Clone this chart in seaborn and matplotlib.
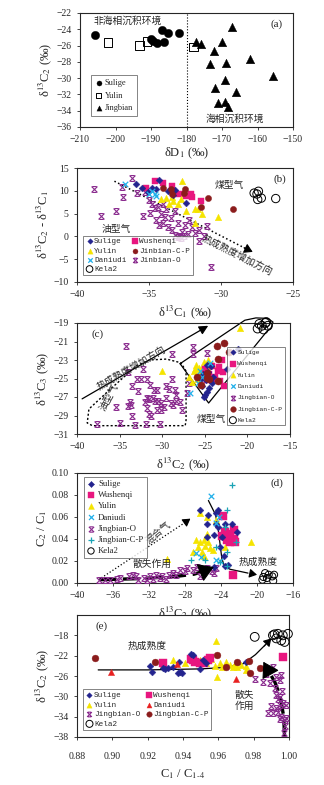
import matplotlib
matplotlib.use("Agg")
import matplotlib.pyplot as plt
from matplotlib.path import Path
import seaborn as sns

# ---------------- data ----------------
# (a) dD1 vs d13C2
a_sulige_x = [-205.8, -190.0, -188.4, -187.0, -186.2, -185.1, -182.0, -189.4]
a_sulige_y = [-24.7, -25.2, -25.7, -24.1, -25.6, -24.5, -24.5, -25.4]
a_yulin_x = [-202.1, -193.2, -191.1, -178.0]
a_yulin_y = [-25.6, -26.0, -25.5, -26.2]
a_jing_x = [-167.1, -177.2, -176.0, -170.1, -172.2, -173.4, -169.0, -162.0, -155.5,
            -169.2, -172.1, -166.0, -171.1, -169.2, -168.2]
a_jing_y = [-23.7, -25.5, -25.8, -25.5, -26.7, -28.3, -28.1, -27.7, -29.7,
            -30.2, -31.2, -31.7, -33.0, -32.9, -33.6]

# (b) d13C1 vs d13C2-d13C1
b_sulige_x = [-34.3, -35.9, -35.5, -35.1, -34.5, -33.7, -33.3, -32.4, -33.2, -34.8]
b_sulige_y = [12.4, 11.5, 10.6, 9.7, 10.4, 9.9, 9.0, 7.3, 10.2, 10.6]
b_wush_x = [-34.6, -34.0, -32.6, -32.1, -32.0, -31.4, -35.2, -33.4, -33.0, -32.4]
b_wush_y = [12.1, 11.7, 9.2, 9.2, 8.6, 7.7, 10.6, 11.0, 9.3, 8.8]
b_yulin_x = [-32.7, -34.2, -33.8, -33.3, -33.0, -32.8, -32.4, -31.8, -31.6, -31.3,
             -30.2, -31.8, -33.6, -33.4]
b_yulin_y = [12.1, 8.1, 8.4, 7.7, 7.0, 8.1, 5.5, 5.9, 5.9, 5.0, 4.2, 2.9, 7.0, 8.6]
b_dan_x = [-36.7, -34.8, -34.6, -35.0, -34.5]
b_dan_y = [11.5, 10.0, 9.2, 9.3, 8.8]
b_cp_x = [-34.0, -33.5, -33.4, -32.5, -30.9, -31.4, -29.2, -32.6]
b_cp_y = [10.6, 10.5, 9.3, 10.5, 8.4, 6.4, 5.9, 9.5]
b_o_x = [-38.8, -38.3, -37.3, -36.8, -36.9, -36.2, -35.4, -35.8, -35.3, -35.0, -34.8,
         -34.6, -34.9, -34.4, -34.2, -34.0, -33.8, -34.5, -34.3, -34.0, -33.7, -33.5,
         -33.2, -33.0, -33.4, -33.2, -32.9, -32.7, -32.5, -32.8, -32.3, -32.0, -31.8,
         -31.5, -31.2, -31.5, -31.0, -32.2, -33.9, -30.7, -32.6, -33.0]
b_o_y = [10.5, 4.4, 5.5, 8.6, 10.8, 12.8, 4.4, 9.5, 9.8, 8.0, 7.0,
         6.2, 5.2, 6.5, 5.0, 7.2, 6.0, 3.5, 2.5, 3.0, 2.0, 4.0,
         5.5, 3.0, 1.5, 0.2, 0.0, 1.0, 2.5, -0.3, 0.5, 2.0, 0.8,
         1.5, 0.0, -1.0, 2.2, 3.5, 4.2, -6.8, 0.0, -0.2]
b_kela_x = [-27.5, -27.4, -27.7, -27.2, -27.45, -26.2]
b_kela_y = [9.3, 9.9, 9.5, 8.4, 8.1, 8.3]

# (c) d13C2 vs d13C3
c_sulige_x = [-25.5, -25.1, -24.8, -24.5, -24.2, -24.0, -25.3, -24.6, -25.0, -24.3,
              -22.4, -21.1, -24.9, -25.2, -24.7]
c_sulige_y = [-25.0, -27.0, -26.5, -26.0, -25.5, -24.8, -25.8, -24.3, -26.8, -23.7,
              -24.0, -21.8, -25.2, -24.5, -23.5]
c_wush_x = [-25.0, -24.5, -24.0, -23.5, -23.0, -22.7, -23.2, -24.2, -23.8, -23.3, -24.8, -22.9]
c_wush_y = [-24.0, -24.5, -25.0, -24.2, -23.0, -25.8, -25.3, -23.6, -24.8, -23.8, -25.2, -24.3]
c_yulin_x = [-26.8, -26.3, -26.0, -25.7, -25.4, -25.1, -24.8, -25.9, -26.5, -25.3,
             -24.6, -25.6, -30.0, -20.9, -26.1, -24.2]
c_yulin_y = [-24.8, -24.2, -23.5, -23.9, -24.0, -23.2, -23.8, -25.0, -25.4, -24.7,
             -23.0, -24.4, -24.2, -19.5, -24.0, -23.4]
c_dan_x = [-26.7, -25.6, -24.4, -25.3, -25.8]
c_dan_y = [-26.6, -24.2, -23.3, -24.8, -25.5]
c_o_x = [-34.3, -34.0, -33.5, -35.4, -33.8, -33.7, -33.5, -33.2, -37.7, -35.0, -32.3,
         -31.8, -33.0, -32.5, -31.9, -31.4, -31.0, -30.6, -31.8, -31.5, -31.1, -30.8,
         -30.5, -30.1, -29.6, -31.8, -31.6, -30.6, -30.1, -29.5, -29.2, -28.8, -28.8,
         -28.5, -28.4, -28.4, -28.7, -27.9, -27.7, -27.1, -26.4, -26.4, -24.7, -26.9,
         -29.0, -32.0, -31.3, -32.8, -30.3, -34.0, -29.8, -24.5]
c_o_y = [-21.5, -24.3, -25.8, -28.1, -27.5, -27.9, -29.1, -30.0, -29.9, -29.8, -24.0,
         -25.1, -25.1, -25.0, -29.9, -25.7, -26.2, -26.2, -27.1, -27.2, -27.1, -27.4,
         -27.4, -27.6, -27.1, -28.2, -28.8, -28.4, -28.4, -25.8, -26.1, -22.4, -25.1,
         -26.2, -26.8, -27.4, -27.9, -27.5, -28.4, -26.6, -21.6, -22.4, -22.2, -25.5,
         -27.6, -27.5, -29.0, -26.4, -29.9, -28.0, -28.1, -23.6]
c_cp_x = [-23.6, -22.7, -22.2, -23.4, -25.9, -25.5, -24.8, -24.7, -23.4, -24.5]
c_cp_y = [-21.5, -21.2, -22.1, -22.9, -24.8, -25.7, -24.4, -24.9, -25.3, -25.0]
c_kela_x = [-18.8, -18.3, -17.9, -17.6, -18.6, -18.1, -17.8]
c_kela_y = [-19.6, -19.3, -19.0, -19.3, -19.1, -19.7, -18.9]

# (d) d13C2 vs C2/C1
d_sulige_x = [-26.3, -25.4, -24.5, -24.3, -25.6, -24.6, -24.3, -23.6, -22.8, -22.2,
              -23.9, -24.8, -25.5, -24.1, -23.7, -23.6, -23.2, -24.8]
d_sulige_y = [0.066, 0.062, 0.064, 0.066, 0.054, 0.054, 0.051, 0.054, 0.054, 0.046,
              0.042, 0.044, 0.042, 0.033, 0.025, 0.0155, 0.016, 0.015]
d_wush_x = [-23.8, -23.0, -23.5, -22.6, -23.3, -23.0, -22.4, -22.7, -23.9, -22.6]
d_wush_y = [0.061, 0.045, 0.046, 0.040, 0.039, 0.037, 0.037, 0.0075, 0.043, 0.048]
d_yulin_x = [-26.3, -25.6, -24.5, -26.8, -26.3, -25.9, -25.8, -25.4, -26.5, -26.1,
             -25.9, -27.1, -24.9, -23.6, -20.7, -30.0, -25.5, -25.2]
d_yulin_y = [0.064, 0.060, 0.057, 0.039, 0.037, 0.039, 0.034, 0.037, 0.033, 0.028,
             0.025, 0.028, 0.030, 0.033, 0.037, 0.022, 0.045, 0.032]
d_dan_x = [-25.1, -26.8, -26.2, -24.5, -24.1, -24.2, -24.6]
d_dan_y = [0.079, 0.027, 0.024, 0.021, 0.020, 0.060, 0.055]
d_o_x = [-37.5, -35.2, -33.8, -33.4, -32.6, -31.9, -31.2, -30.5, -29.8, -29.3, -28.5,
         -28.0, -27.1, -26.3, -25.6, -24.6, -24.8, -34.2, -33.2, -32.2, -31.5, -30.8,
         -30.1, -29.0, -27.8, -26.7, -25.8, -25.0, -35.5, -36.3, -36.9]
d_o_y = [0.003, 0.0045, 0.0075, 0.006, 0.0045, 0.006, 0.0075, 0.006, 0.0075, 0.0095, 0.012,
         0.0105, 0.012, 0.006, 0.0135, 0.0135, 0.009, 0.006, 0.003, 0.003, 0.004, 0.0045,
         0.004, 0.0075, 0.0135, 0.015, 0.012, 0.011, 0.0035, 0.003, 0.003]
d_cp_x = [-22.8, -23.3, -23.5, -22.3, -23.3, -25.8, -27.3, -24.6, -23.3, -24.1]
d_cp_y = [0.0895, 0.066, 0.051, 0.037, 0.028, 0.021, 0.021, 0.033, 0.0155, 0.019]
d_kela_x = [-19.1, -18.7, -18.3, -19.3, -18.9, -18.2, -18.1, -19.4]
d_kela_y = [0.009, 0.0075, 0.006, 0.0055, 0.0045, 0.002, 0.0075, 0.003]

# (e) C1/C1-4 vs d13C2
e_sulige_x = [0.9214, 0.9223, 0.9289, 0.9298, 0.9317, 0.9345, 0.9383, 0.9392, 0.9380,
              0.9495, 0.9443, 0.9458, 0.9514, 0.9533, 0.9759, 0.9373]
e_sulige_y = [-24.1, -25.2, -24.4, -24.6, -24.4, -24.2, -25.2, -25.5, -23.2,
              -24.7, -21.7, -21.9, -22.9, -23.4, -23.2, -25.4]
e_wush_x = [0.9289, 0.9448, 0.9467, 0.9495, 0.9518, 0.9542, 0.9552, 0.9965, 0.9458]
e_wush_y = [-23.4, -22.6, -23.2, -23.4, -23.5, -22.8, -22.4, -22.2, -22.9]
e_yulin_x = [0.9289, 0.9345, 0.9410, 0.9495, 0.9523, 0.9561, 0.9586, 0.9593, 0.9608,
             0.9646, 0.9665, 0.9693, 0.9706, 0.9759, 0.9759, 0.9533, 0.9580, 0.9618,
             0.9684, 0.9730]
e_yulin_y = [-23.9, -22.9, -23.5, -22.8, -23.0, -22.6, -19.1, -26.1, -23.5,
             -23.2, -23.9, -23.7, -24.2, -24.1, -24.9, -23.5, -24.0, -24.2,
             -24.2, -23.8]
e_dan_x = [0.8994, 0.9368, 0.9702]
e_dan_y = [-25.2, -23.7, -26.5]
e_o_x = [0.9806, 0.9853, 0.9871, 0.9890, 0.9909, 0.9928, 0.9947, 0.9956, 0.9918,
         0.9928, 0.9937, 0.9947, 0.9951, 0.9966, 0.9984, 0.9881, 0.9909, 0.9937,
         0.9956, 0.9975, 0.9971, 0.9975, 0.9947, 0.9928, 0.9900, 0.9984, 0.9962]
e_o_y = [-26.5, -27.2, -25.6, -27.4, -24.2, -26.1, -26.7, -25.8, -28.4,
         -29.7, -30.6, -30.1, -31.7, -31.4, -31.7, -33.3, -33.3, -33.0,
         -34.0, -34.6, -37.2, -35.9, -34.4, -32.3, -31.9, -34.3, -29.0]
e_cp_x = [0.8900, 0.9242, 0.9593, 0.9646, 0.9708, 0.9774, 0.9781, 0.9834, 0.9871]
e_cp_y = [-22.4, -23.2, -21.9, -24.2, -23.2, -23.0, -25.4, -24.5, -24.7]
e_kela_x = [0.9806, 0.9909, 0.9937, 0.9965, 0.9994, 0.9956, 0.9975, 0.9928, 0.9918]
e_kela_y = [-18.3, -18.0, -17.7, -18.0, -17.7, -19.0, -19.3, -18.6, -17.8]

# ---------------- style ----------------
sns.set_style("ticks")
plt.rcParams["font.family"] = ["Liberation Serif", "Noto Sans CJK SC"]
plt.rcParams["mathtext.fontset"] = "stix"
plt.rcParams["axes.linewidth"] = 0.8
plt.rcParams["xtick.labelsize"] = 7
plt.rcParams["ytick.labelsize"] = 7
plt.rcParams["xtick.major.size"] = 2.5
plt.rcParams["ytick.major.size"] = 2.5
plt.rcParams["xtick.major.width"] = 0.6
plt.rcParams["ytick.major.width"] = 0.6

CN = ["Noto Sans CJK SC"]
MONO = ["Liberation Mono"]

jx = Path([(-1, -1), (1, 1), (-1, 1), (1, -1), (-0.7, 1), (0.7, 1), (-0.7, -1), (0.7, -1)],
          [Path.MOVETO, Path.LINETO] * 4)

C_SUL = "#23238e"
C_WUS = "#e8167f"
C_YUL = "#f5e400"
C_DAN = "#22b0ea"
C_O = "#8a2b8e"
C_CP = "#8b1c1c"
C_CPD = "#1aa3b5"
C_RED = "#e82020"


def pts(ax, x, y, label, marker, color, s, open_=False, lw=0.6, clip=True):
    kw = dict(x=x, y=y, ax=ax, label=label, marker=marker, s=s, clip_on=clip, zorder=3)
    if open_:
        kw.update(color=color, facecolor="none", edgecolor=color, linewidth=0.7)
    elif marker in ("x", "+") or isinstance(marker, Path):
        kw.update(color=color, edgecolor=color, linewidth=lw)
    else:
        kw.update(color=color, edgecolor=color, linewidth=0.3)
    sns.scatterplot(**kw)


def arrow_head(ax, p0, p1, color="k", hl=0.5, hw=0.3, ms=8):
    ax.annotate("", xy=p1, xytext=p0,
                arrowprops=dict(arrowstyle=f"-|>,head_length={hl},head_width={hw}",
                                color=color, lw=0.8, mutation_scale=ms, shrinkA=0, shrinkB=0))


W, H = 324, 785
fig = plt.figure(figsize=(W / 100, H / 100), dpi=100)


def box(l, t, r, b):
    return fig.add_axes([l / W, 1 - b / H, (r - l) / W, (b - t) / H])


# ---------------- (a) ----------------
ax = box(80, 13, 293, 127)
pts(ax, a_sulige_x, a_sulige_y, "Sulige", "o", "black", 36)
pts(ax, a_yulin_x, a_yulin_y, "Yulin", "s", "black", 38, open_=True)
pts(ax, a_jing_x, a_jing_y, "Jingbian", "^", "black", 38)
ax.axvline(-180, color="k", ls=":", lw=0.8)
ax.set_xlim(-210, -150)
ax.set_ylim(-36, -22)
ax.set_xticks(range(-210, -149, 10))
ax.set_yticks(range(-36, -21, 2))
ax.set_xlabel("δD$_1$ (‰)", fontsize=9, labelpad=1)
ax.set_ylabel("δ$^{13}$C$_2$ (‰)", fontsize=9, labelpad=2)
ax.text(-196.5, -23.0, "非海相沉积环境", family=CN, fontsize=7, ha="center", va="center")
ax.text(-166.5, -35.0, "海相沉积环境", family=CN, fontsize=7, ha="center", va="center")
ax.text(-154.5, -23.4, "(a)", fontsize=8, ha="center", va="center")
leg = ax.legend(loc="lower left", bbox_to_anchor=(0.03, 0.06), fontsize=6, frameon=True,
                fancybox=False, edgecolor="0.3", borderpad=0.5, handletextpad=0.2,
                labelspacing=0.5, handlelength=1.0, markerscale=0.6)
leg.get_frame().set_linewidth(0.6)

# ---------------- (b) ----------------
ax = box(77, 168, 293, 282)
pts(ax, b_o_x, b_o_y, "Jinbian-O", jx, C_O, 18, lw=0.8)
pts(ax, b_wush_x, b_wush_y, "Wushenqi", "s", C_WUS, 24)
pts(ax, b_yulin_x, b_yulin_y, "Yulin", "^", C_YUL, 22)
pts(ax, b_sulige_x, b_sulige_y, "Sulige", "D", C_SUL, 12)
pts(ax, b_dan_x, b_dan_y, "Daniudi", "x", C_DAN, 16, lw=0.9)
pts(ax, b_cp_x, b_cp_y, "Jinbian-C-P", "o", C_CP, 20)
pts(ax, b_kela_x, b_kela_y, "Kela2", "o", "black", 36, open_=True)
ax.plot([-37.4, -28.2], [12.1, -2.8], color="k", ls=":", lw=1.1)
arrow_head(ax, (-28.4, -2.5), (-27.8, -3.4), ms=10)
ax.set_xlim(-40, -25)
ax.set_ylim(-10, 15)
ax.set_xticks(range(-40, -24, 5))
ax.set_yticks(range(-10, 16, 5))
ax.set_xlabel("δ$^{13}$C$_1$ (‰)", fontsize=9, labelpad=3)
ax.set_ylabel("δ$^{13}$C$_2$ - δ$^{13}$C$_1$", fontsize=9, labelpad=2)
ax.text(-29.4, 11.3, "煤型气", family=CN, fontsize=7, ha="center", va="center")
ax.text(-37.3, 1.6, "油型气", family=CN, fontsize=7, ha="center", va="center")
ax.text(-28.9, -4.1, "热成熟度增加方向", family=CN, fontsize=7, ha="center", va="center",
        rotation=-27)
ax.text(-25.9, 12.6, "(b)", fontsize=8, ha="center", va="center")
h, l = ax.get_legend_handles_labels()
order = ["Sulige", "Yulin", "Daniudi", "Kela2", "Wushenqi", "Jinbian-C-P", "Jinbian-O"]
hm = dict(zip(l, h))
leg = ax.legend([hm[k] for k in order], order, loc="lower left", bbox_to_anchor=(0.012, 0.025),
                ncol=2, prop={"family": MONO, "size": 5.5}, frameon=True, fancybox=False,
                edgecolor="0.3", borderpad=0.3, handletextpad=0.1, labelspacing=0.25,
                columnspacing=0.6, handlelength=1.0, markerscale=0.8)
leg.get_frame().set_linewidth(0.6)

# ---------------- (c) ----------------
ax = box(77, 323, 290, 434)
pts(ax, c_o_x, c_o_y, "Jingbian-O", jx, C_O, 18, lw=0.8)
pts(ax, c_yulin_x, c_yulin_y, "Yulin", "^", C_YUL, 22)
pts(ax, c_wush_x, c_wush_y, "Wushenqi", "s", C_WUS, 24)
pts(ax, c_sulige_x, c_sulige_y, "Sulige", "D", C_SUL, 12)
pts(ax, c_dan_x, c_dan_y, "Daniudi", "x", C_DAN, 16, lw=0.9)
pts(ax, c_cp_x, c_cp_y, "Jingbian-C-P", "o", C_CP, 26)
pts(ax, c_kela_x, c_kela_y, "Kela2", "o", "black", 40, open_=True, clip=False)
oil_x = [-27.2, -27.8, -29.5, -31.5, -33.0, -36.5, -38.6, -38.8, -38.2, -27.3, -27.2, -27.2]
oil_y = [-24.2, -23.3, -22.9, -23.0, -23.6, -26.5, -28.3, -29.8, -30.1, -30.1, -29.5, -24.2]
ax.plot(oil_x, oil_y, color="k", ls=(0, (1.5, 1.5)), lw=1.0)
coal_x = [-27.9, -20.3, -19.0, -17.6, -17.0, -17.2, -17.8, -24.55, -27.9]
coal_y = [-23.4, -18.7, -18.45, -18.5, -18.9, -19.5, -20.0, -27.65, -23.4]
ax.plot(coal_x, coal_y, color="k", lw=0.9, clip_on=False)
ax.annotate("", xy=(-24.6, -19.3), xytext=(-39.4, -27.2),
            arrowprops=dict(arrowstyle="-|>,head_length=0.6,head_width=0.3", color="k",
                            lw=0.9, mutation_scale=9, shrinkA=0, shrinkB=0))
ax.set_xlim(-40, -15)
ax.set_ylim(-31, -19)
ax.set_xticks(range(-40, -14, 5))
ax.set_yticks(range(-31, -18, 2))
ax.set_xlabel("δ$^{13}$C$_2$ (‰)", fontsize=9, labelpad=3)
ax.set_ylabel("δ$^{13}$C$_3$ (‰)", fontsize=9, labelpad=2)
ax.text(-33.6, -23.9, "热成熟度增加方向", family=CN, fontsize=7, ha="center", va="center",
        rotation=30)
ax.text(-36.3, -27.0, "油型气", family=CN, fontsize=7, ha="center", va="center", rotation=62)
ax.text(-24.2, -29.4, "煤型气", family=CN, fontsize=7, ha="center", va="center")
ax.text(-37.6, -20.2, "(c)", fontsize=8, ha="center", va="center")
h, l = ax.get_legend_handles_labels()
order = ["Sulige", "Wushenqi", "Yulin", "Daniudi", "Jingbian-O", "Jingbian-C-P", "Kela2"]
hm = dict(zip(l, h))
leg = ax.legend([hm[k] for k in order], order, loc="lower right", bbox_to_anchor=(0.99, 0.05),
                prop={"family": MONO, "size": 4.5}, frameon=True, fancybox=False,
                edgecolor="0.3", borderpad=0.4, handletextpad=0.2, labelspacing=0.95,
                handlelength=1.0, markerscale=0.8)
leg.get_frame().set_linewidth(0.6)

# ---------------- (d) ----------------
ax = box(77, 473, 293, 583)
pts(ax, d_o_x, d_o_y, "Jingbian-O", jx, C_O, 18, lw=0.8)
pts(ax, d_yulin_x, d_yulin_y, "Yulin", "^", C_YUL, 22)
pts(ax, d_wush_x, d_wush_y, "Wushenqi", "s", C_WUS, 26)
pts(ax, d_sulige_x, d_sulige_y, "Sulige", "D", C_SUL, 12)
pts(ax, d_dan_x, d_dan_y, "Daniudi", "x", C_DAN, 16, lw=0.9)
pts(ax, d_cp_x, d_cp_y, "Jingbian-C-P", "+", C_CPD, 18, lw=0.9)
pts(ax, d_kela_x, d_kela_y, "Kela2", "o", "black", 26, open_=True)
ax.plot([-37.6, -27.9], [0.003, 0.0555], color="k", ls=":", lw=0.9)
arrow_head(ax, (-28.0, 0.055), (-27.4, 0.0585), ms=9)
ax.plot([-37.5, -33, -29, -27, -26.0], [0.003, 0.004, 0.006, 0.008, 0.0105],
        color="k", ls=(0, (5, 2)), lw=2.4)
arrow_head(ax, (-26.3, 0.0095), (-24.8, 0.0145), hl=0.8, hw=0.5, ms=12)
ax.plot([-25.4, -24.6, -24.3, -24.1, -23.9, -23.6, -23.0, -21.0],
        [0.075, 0.062, 0.048, 0.035, 0.022, 0.015, 0.0125, 0.009], color="k", lw=0.9)
arrow_head(ax, (-20.6, 0.0085), (-20.0, 0.0075), ms=9)
ax.set_xlim(-40, -16)
ax.set_ylim(0, 0.10)
ax.set_xticks(range(-40, -15, 4))
ax.set_yticks([0, 0.02, 0.04, 0.06, 0.08, 0.10])
ax.set_yticklabels(["0.00", "0.02", "0.04", "0.06", "0.08", "0.10"])
ax.set_xlabel("δ$^{13}$C$_2$ (‰)", fontsize=9, labelpad=3)
ax.set_ylabel("C$_2$ / C$_1$", fontsize=9, labelpad=2)
ax.text(-31.0, 0.046, "混合气", family=CN, fontsize=7, ha="center", va="center", rotation=40)
ax.text(-31.6, 0.017, "散失作用", family=CN, fontsize=7, ha="center", va="center")
ax.text(-19.9, 0.0195, "热成熟度", family=CN, fontsize=7, ha="center", va="center")
ax.text(-17.8, 0.0905, "(d)", fontsize=8, ha="center", va="center")
h, l = ax.get_legend_handles_labels()
order = ["Sulige", "Wushenqi", "Yulin", "Daniudi", "Jingbian-O", "Jingbian-C-P", "Kela2"]
hm = dict(zip(l, h))
leg = ax.legend([hm[k] for k in order], order, loc="upper left", bbox_to_anchor=(0.012, 1.0),
                fontsize=6.3, frameon=True, fancybox=False, edgecolor="0.3", borderpad=0.3,
                handletextpad=0.3, labelspacing=0.35, handlelength=1.0, markerscale=0.9)
leg.get_frame().set_linewidth(0.6)

# ---------------- (e) ----------------
ax = box(77, 615, 289, 737)
pts(ax, e_o_x, e_o_y, "Jingbian-O", jx, C_O, 18, lw=0.8)
pts(ax, e_yulin_x, e_yulin_y, "Yulin", "^", C_YUL, 22)
pts(ax, e_wush_x, e_wush_y, "Wushenqi", "s", C_WUS, 26)
pts(ax, e_sulige_x, e_sulige_y, "Sulige", "D", C_SUL, 12)
pts(ax, e_dan_x, e_dan_y, "Daniudi", "^", C_RED, 20)
pts(ax, e_cp_x, e_cp_y, "Jingbian-C-P", "o", C_CP, 24)
pts(ax, e_kela_x, e_kela_y, "Kela2", "o", "black", 40, open_=True, clip=False)
ax.plot([0.8920, 0.92, 0.95, 0.965, 0.974, 0.981, 0.9865],
        [-24.8, -24.8, -24.6, -24.3, -23.6, -21.8, -19.9], color="k", lw=0.9)
arrow_head(ax, (0.9860, -20.1), (0.9900, -18.6), ms=9)
ax.plot([0.9975, 0.997, 0.995, 0.992, 0.989], [-38.0, -34.0, -30.0, -27.2, -25.4],
        color="k", ls=(0, (5, 2)), lw=2.4)
arrow_head(ax, (0.989, -25.4), (0.9855, -23.2), hl=0.8, hw=0.5, ms=12)
ax.set_xlim(0.88, 1.00)
ax.set_ylim(-38, -14)
ax.set_xticks([0.88, 0.90, 0.92, 0.94, 0.96, 0.98, 1.00])
ax.set_xticklabels(["0.88", "0.90", "0.92", "0.94", "0.96", "0.98", "1.00"])
ax.tick_params(axis="x", pad=8)
ax.set_yticks(range(-38, -17, 4))
ax.set_xlabel("C$_1$ / C$_{1\\text{-}4}$", fontsize=9, labelpad=5)
ax.set_ylabel("δ$^{13}$C$_2$ (‰)", fontsize=9, labelpad=2)
ax.text(0.9195, -20.0, "热成熟度", family=CN, fontsize=7, ha="center", va="center")
ax.text(0.9745, -30.8, "散失\n作用", family=CN, fontsize=7, ha="center", va="center",
        linespacing=1.0)
ax.text(0.894, -16.2, "(e)", fontsize=8, ha="center", va="center")
h, l = ax.get_legend_handles_labels()
order = ["Sulige", "Yulin", "Jingbian-O", "Kela2", "Wushenqi", "Daniudi", "Jingbian-C-P"]
hm = dict(zip(l, h))
leg = ax.legend([hm[k] for k in order], order, loc="lower left", bbox_to_anchor=(0.012, 0.025),
                ncol=2, prop={"family": MONO, "size": 5.5}, frameon=True, fancybox=False,
                edgecolor="0.3", borderpad=0.3, handletextpad=0.1, labelspacing=0.3,
                columnspacing=0.6, handlelength=1.0, markerscale=0.8)
leg.get_frame().set_linewidth(0.6)

fig.savefig("out.png", dpi=100)
